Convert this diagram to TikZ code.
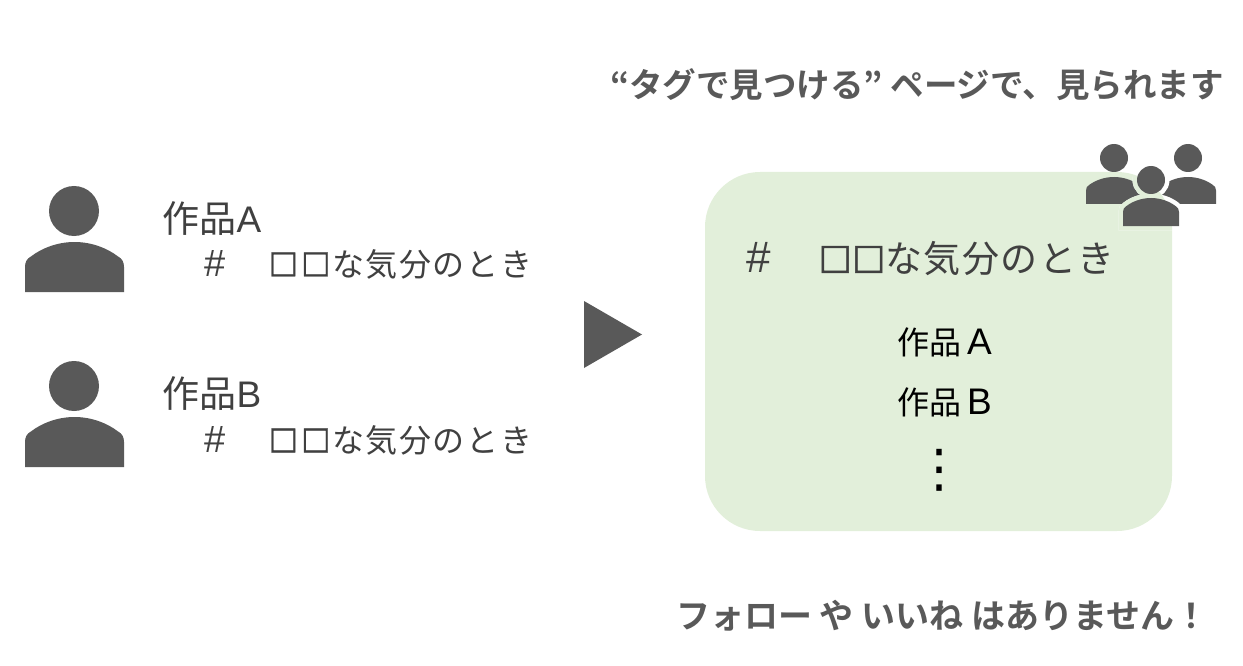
\documentclass[tikz,border=0pt]{standalone}
\usepackage{fontspec}
\setmainfont{Noto Sans CJK JP}
\newfontfamily\lat{Liberation Sans}
\newfontfamily\dv{DejaVu Sans}
\newfontfamily\sqfont[FakeBold=1.2]{DejaVu Sans}
\newfontfamily\tagfont[LetterSpace=5]{Noto Sans CJK JP}
\newfontfamily\tagbig[LetterSpace=4]{Noto Sans CJK JP}
\newfontfamily\boldtop{Noto Sans CJK JP Bold}
\definecolor{ink}{HTML}{404040}
\definecolor{icon}{HTML}{595959}
\definecolor{panelgreen}{HTML}{E2EFDA}
\tikzset{
  txt/.style={anchor=base west,inner sep=0pt,outer sep=0pt},
  work/.style={txt,text=ink,font=\fontsize{37}{37}\selectfont},
  tagline/.style={txt,text=ink,font=\tagfont\fontsize{32}{32}\selectfont},
  tagpanel/.style={txt,text=ink,font=\tagbig\fontsize{37}{37}\selectfont},
  item/.style={txt,text=black,font=\fontsize{32}{32}\selectfont},
  headline/.style={txt,text=icon,font=\boldtop\fontsize{33.5}{33.5}\selectfont},
  headlinewide/.style={txt,text=icon,font=\boldtop\fontsize{34}{34}\selectfont},
}
% left right top bottom
\newcommand{\bodypath}[4]{%
  (#1,#4) -- (#1,{#3+0.5*(#4-#3)})
  .. controls (#1,{#3+0.4*(#4-#3)}) and ({#1+0.02*(#2-#1)},{#3+0.33*(#4-#3)}) .. ({#1+0.06*(#2-#1)},{#3+0.29*(#4-#3)})
  .. controls ({#1+0.17*(#2-#1)},{#3+0.12*(#4-#3)}) and ({#1+0.33*(#2-#1)},#3) .. ({0.5*(#1+#2)},#3)
  .. controls ({#2-0.33*(#2-#1)},#3) and ({#2-0.17*(#2-#1)},{#3+0.12*(#4-#3)}) .. ({#2-0.06*(#2-#1)},{#3+0.29*(#4-#3)})
  .. controls ({#2-0.02*(#2-#1)},{#3+0.33*(#4-#3)}) and (#2,{#3+0.4*(#4-#3)}) .. (#2,{#3+0.5*(#4-#3)}) -- (#2,#4) -- cycle}
% hash size, gap after hash, square size, square cell
\newcommand{\tagsq}[2]{\makebox[#2][c]{\raisebox{3.5pt}{\sqfont\fontsize{#1}{#1}\selectfont □}}}
\newcommand{\tagtext}[4]{{\lat\fontsize{#1}{#1}\selectfont\#}\hspace{#2}\tagsq{#3}{#4}\tagsq{#3}{#4}な気分のとき}
\begin{document}
\begin{tikzpicture}[x=1pt,y=-1pt]
\useasboundingbox (0,0) rectangle (1243,666);
% left persons
\fill[icon] (74,211) circle[radius=25];
\fill[icon] \bodypath{25}{124}{242}{292};
\fill[icon] (74,386) circle[radius=25];
\fill[icon] \bodypath{25}{124}{417}{467};
% left text
\node[work] (wa) at (162.5,232) {作品{\lat A}};
\node[tagline] (ta) at (204,276) {\tagtext{38}{42pt}{31}{32.5pt}};
\node[work] (wb) at (162.5,407) {作品{\lat B}};
\node[tagline] (tb) at (204,452) {\tagtext{38}{42pt}{31}{32.5pt}};
% arrow
\fill[icon] (584,301) -- (642,334.5) -- (584,368) -- cycle;
% panel
\fill[panelgreen,rounded corners=55pt] (705,172) rectangle (1172,531);
% group icon
\fill[icon] (1114,158) circle[radius=14];
\fill[icon] (1188,158) circle[radius=14];
\fill[icon] \bodypath{1086}{1142}{177}{204};
\fill[icon] \bodypath{1160}{1216}{177}{204};
\path[draw=white,line width=9pt,fill=white] (1151,180) circle[radius=14];
\path[draw=white,line width=9pt,fill=white] \bodypath{1123}{1179}{198}{226};
\begin{scope}
\clip[rounded corners=55pt] (705,172) rectangle (1172,531);
\path[draw=panelgreen,line width=9pt,fill=panelgreen] (1151,180) circle[radius=14];
\path[draw=panelgreen,line width=9pt,fill=panelgreen] \bodypath{1123}{1179}{198}{226};
\end{scope}
\fill[icon] (1151,180) circle[radius=14];
\fill[icon] \bodypath{1123}{1179}{198}{226};
% panel text
\node[tagpanel] (tp) at (746,272) {\tagtext{44}{48pt}{35}{33.5pt}};
\node[item] (ia) at (897,354) {作品{\lat\fontsize{37}{37}\selectfont\,A}};
\node[item] (ib) at (897,414) {作品{\lat\fontsize{37}{37}\selectfont\,B}};
\node[anchor=center,inner sep=0pt,text=black,font=\dv\fontsize{52}{52}\selectfont] (dots) at (939,470) {⋮};
% headlines
\node[headline] (h1) at (610,98) {“タグで見つける” ページで、見られます};
\node[headlinewide] (h2) at (676,628) {フォロー や いいね はありません！};
\end{tikzpicture}
\end{document}
